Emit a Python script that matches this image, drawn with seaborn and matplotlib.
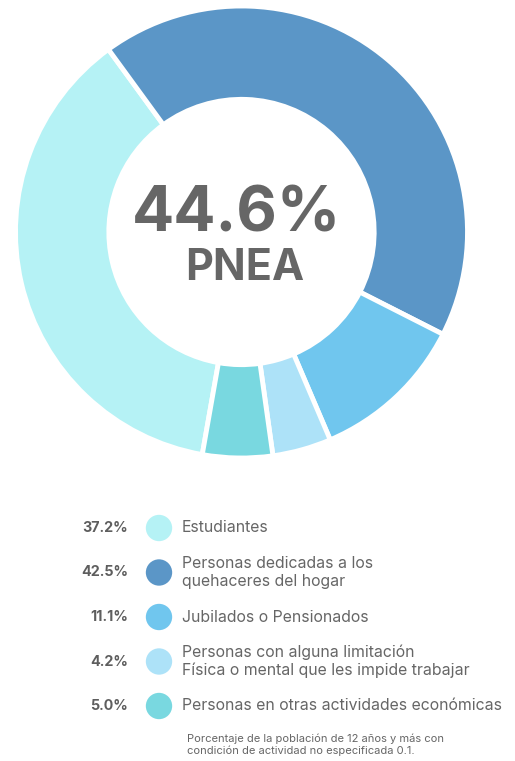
import matplotlib
matplotlib.use("Agg")
import matplotlib.pyplot as plt
import seaborn as sns

sns.set_theme(style="white")
plt.rcParams['font.family'] = ['Inter', 'DejaVu Sans']

# datos
categorias = [
    "Estudiantes",
    "Personas dedicadas a los\nquehaceres del hogar",
    "Jubilados o Pensionados",
    "Personas con alguna limitación\nFísica o mental que les impide trabajar",
    "Personas en otras actividades económicas",
]
porcentajes = [37.2, 42.5, 11.1, 4.2, 5.0]
colores = ["#b5f2f5", "#5b96c7", "#70c6ee", "#ade2f8", "#79d8e0"]
total_pnea = 44.6
nota = ("Porcentaje de la población de 12 años y más con\n"
        "condición de actividad no especificada 0.1.")

GRIS = "#666666"
W, H = 515, 761

fig = plt.figure(figsize=(W / 100, H / 100), dpi=100)
fig.patch.set_facecolor("white")

# dona
ax = fig.add_axes([15.5 / W, (H - 458) / H, 452 / W, 452 / H])
ax.pie(porcentajes, colors=colores, startangle=260, counterclock=False,
       radius=1, wedgeprops=dict(width=0.413, edgecolor="white", linewidth=3.5))
ax.set_xlim(-1, 1)
ax.set_ylim(-1, 1)
ax.axis("off")
ax.text(-0.024, 0.075, f"{total_pnea}%", ha="center", va="center",
        fontsize=45, fontweight="bold", color=GRIS)
ax.text(0.013, -0.16, "PNEA", ha="center", va="center",
        fontsize=31, fontweight="bold", color=GRIS)

# leyenda
leg = fig.add_axes([0, (H - 730) / H, 1, 230 / H])
leg.set_xlim(0, W)
y0, paso = 528, 44.5
leg.set_ylim((730 - y0) / paso, (500 - y0) / paso)
leg.axis("off")
filas = list(range(len(categorias)))
sns.scatterplot(x=[159] * len(filas), y=filas, hue=filas, palette=colores,
                s=360, linewidth=0, legend=False, ax=leg)
for i, (cat, val) in enumerate(zip(categorias, porcentajes)):
    leg.text(128, i, f"{val:.1f}%", ha="right", va="center",
             fontsize=10.3, fontweight="bold", color="#5e5e5e")
    leg.text(182, i, cat, ha="left", va="center", fontsize=11.4,
             color=GRIS, linespacing=1.2)

fig.text(187 / W, 1 - 745 / H, nota, ha="left", va="center",
         fontsize=8.0, color=GRIS, linespacing=1.15)

fig.savefig("out.png", dpi=100, facecolor="white")
